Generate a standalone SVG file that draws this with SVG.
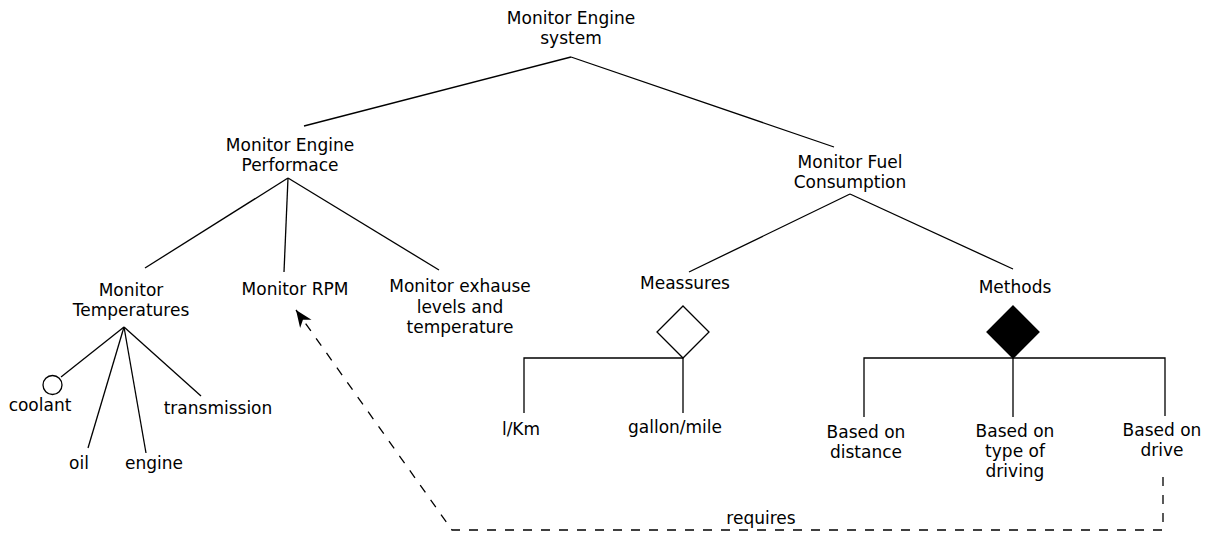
<svg xmlns="http://www.w3.org/2000/svg" width="1211" height="535" viewBox="0 0 1211 535">
  <defs>
    <style>
      text { font-family: "DejaVu Sans", "Liberation Sans", sans-serif; font-size: 17px; fill: #000; text-anchor: middle; }
      .edge { fill: none; stroke: #000; stroke-width: 1.3; }
      .dash { fill: none; stroke: #000; stroke-width: 1.3; stroke-dasharray: 9 9; }
    </style>
    <marker id="arrow" markerWidth="20" markerHeight="20" refX="17" refY="10" orient="auto" markerUnits="userSpaceOnUse">
      <path d="M0,3 L17,10 L0,17 L5,10 Z" fill="#000"/>
    </marker>
  </defs>
  <rect width="1211" height="535" fill="#fff"/>

  <!-- connectors -->
  <g id="connectors">
    <path class="edge" d="M571,57 L304,126"/>
    <path class="edge" d="M571,57 L834,147"/>
    <path class="edge" d="M288,178 L145,268"/>
    <path class="edge" d="M288,178 L284,272"/>
    <path class="edge" d="M288,178 L439,270"/>
    <path class="edge" d="M124,327 L61,377"/>
    <path class="edge" d="M124,327 L88,448"/>
    <path class="edge" d="M124,327 L146,453"/>
    <path class="edge" d="M124,327 L201,396"/>
    <path class="edge" d="M850,194 L689,272"/>
    <path class="edge" d="M850,194 L1013,269"/>
    <path class="edge" d="M683,358 L524,358 L524,413 M683,358 L683,413"/>
    <path class="edge" d="M1013,358 L864,358 L864,417 M1013,358 L1165,358 L1165,416 M1013,358 L1013,417"/>
    <path class="dash" d="M1163,477 L1163,530 L452,530 L296,310" marker-end="url(#arrow)"/>
    <text x="761" y="524">requires</text>
  </g>

  <g id="root">
    <text x="571" y="24">Monitor Engine</text>
    <text x="571" y="44">system</text>
  </g>
  <g id="performance">
    <text x="290" y="151">Monitor Engine</text>
    <text x="290" y="171">Performace</text>
  </g>
  <g id="fuel">
    <text x="850" y="168">Monitor Fuel</text>
    <text x="850" y="188">Consumption</text>
  </g>
  <g id="temperatures">
    <text x="131" y="296">Monitor</text>
    <text x="131" y="316">Temperatures</text>
  </g>
  <g id="rpm">
    <text x="295" y="295">Monitor RPM</text>
  </g>
  <g id="exhaust">
    <text x="460" y="292">Monitor exhause</text>
    <text x="460" y="313">levels and</text>
    <text x="460" y="333">temperature</text>
  </g>
  <g id="coolant">
    <circle cx="52.5" cy="385" r="9.5" fill="#fff" stroke="#000" stroke-width="1.3"/>
    <text x="40" y="411">coolant</text>
  </g>
  <g id="oil">
    <text x="79" y="469">oil</text>
  </g>
  <g id="engine">
    <text x="154" y="469">engine</text>
  </g>
  <g id="transmission">
    <text x="218" y="414">transmission</text>
  </g>
  <g id="measures">
    <text x="685" y="289">Meassures</text>
    <path d="M683,306 L709,332 L683,358 L657,332 Z" fill="#fff" stroke="#000" stroke-width="1.3"/>
  </g>
  <g id="methods">
    <text x="1015" y="293">Methods</text>
    <path d="M1013,306 L1039,332 L1013,358 L987,332 Z" fill="#000" stroke="#000" stroke-width="1.3"/>
  </g>
  <g id="lkm">
    <text x="521" y="435">l/Km</text>
  </g>
  <g id="gallon">
    <text x="675" y="433">gallon/mile</text>
  </g>
  <g id="distance">
    <text x="866" y="438">Based on</text>
    <text x="866" y="458">distance</text>
  </g>
  <g id="driving-type">
    <text x="1015" y="437">Based on</text>
    <text x="1015" y="457">type of</text>
    <text x="1015" y="477">driving</text>
  </g>
  <g id="drive">
    <text x="1162" y="436">Based on</text>
    <text x="1162" y="456">drive</text>
  </g>
</svg>
